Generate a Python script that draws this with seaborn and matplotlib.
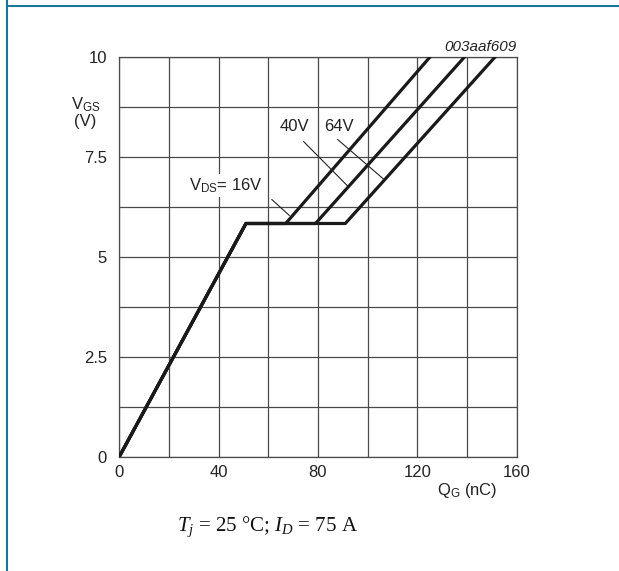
"""Gate charge chart: V_GS vs Q_G for three drain-source voltages."""
import matplotlib

matplotlib.use("Agg")
import matplotlib.pyplot as plt
import numpy as np
import pandas as pd
import seaborn as sns
from matplotlib.lines import Line2D

# gate charge (nC) and gate-source voltage (V) breakpoints
q_16v = [0, 51, 67, 125.2]
v_16v = [0, 5.83, 5.83, 10]
q_40v = [0, 51, 79, 139.1]
v_40v = [0, 5.83, 5.83, 10]
q_64v = [0, 51, 91, 151.4]
v_64v = [0, 5.83, 5.83, 10]
vds_names = ["16V", "40V", "64V"]

x_ticks = [0, 40, 80, 120, 160]
y_ticks = [0, 2.5, 5, 7.5, 10]
y_tick_labels = ["0", "2.5", "5", "7.5", "10"]

sns.set_theme(style="white")
plt.rcParams["font.family"] = ["Liberation Sans", "DejaVu Sans"]
plt.rcParams["mathtext.fontset"] = "custom"
plt.rcParams["mathtext.rm"] = "Liberation Sans"
plt.rcParams["mathtext.it"] = "Liberation Serif:italic"

df = pd.concat(
    [
        pd.DataFrame({"Q": q, "V": v, "vds": name})
        for q, v, name in zip([q_16v, q_40v, q_64v], [v_16v, v_40v, v_64v], vds_names)
    ],
    ignore_index=True,
)

fig = plt.figure(figsize=(6.19, 5.71), dpi=100)
ax = fig.add_axes([0.1927, 0.2002, 0.642, 0.7005])

sns.lineplot(
    data=df, x="Q", y="V", hue="vds", palette=["#1a1a1a"] * 3,
    sort=False, estimator=None, legend=False, lw=2.3, ax=ax, zorder=3,
)

ax.set_xlim(0, 160)
ax.set_ylim(0, 10)
ax.set_xticks(x_ticks)
ax.set_xticks(np.arange(0, 161, 20), minor=True)
ax.set_yticks(y_ticks)
ax.set_yticklabels(y_tick_labels)
ax.set_yticks(np.arange(0, 10.01, 1.25), minor=True)
ax.grid(True, which="both", color="#4a4a4a", lw=0.9)
ax.tick_params(which="both", length=0, labelsize=12, colors="#222222")
ax.tick_params(axis="y", pad=9)
ax.tick_params(axis="x", pad=6)
for s in ax.spines.values():
    s.set_color("#4a4a4a")
    s.set_linewidth(0.9)
ax.set_xlabel("")
ax.set_ylabel("")

# axis labels placed like the datasheet
ax.text(-0.085, 0.86, "V$_{\\mathrm{GS}}$\n(V)", transform=ax.transAxes,
        ha="center", va="center", fontsize=12, color="#222222", linespacing=1.0)
ax.text(0.875, -0.085, "Q$_{\\mathrm{G}}$ (nC)", transform=ax.transAxes,
        ha="center", va="center", fontsize=12, color="#222222")
ax.text(1.0, 1.006, "003aaf609", transform=ax.transAxes, ha="right", va="bottom",
        fontsize=11, style="italic", color="#222222")

# curve labels and leader lines
label_box = dict(facecolor="white", edgecolor="none", pad=1.5)
ax.text(43, 6.78, "V$_{\\mathrm{DS}}$= 16V", ha="center", va="center",
        fontsize=12, color="#222222", bbox=label_box, zorder=4)
ax.text(70.5, 8.25, "40V", ha="center", va="center",
        fontsize=12, color="#222222", bbox=label_box, zorder=4)
ax.text(88.5, 8.25, "64V", ha="center", va="center",
        fontsize=12, color="#222222", bbox=label_box, zorder=4)
leaders = [((61.4, 6.43), (68.5, 6.03)),
           ((74.2, 7.88), (91.9, 6.77)),
           ((87.9, 7.93), (106.6, 6.93))]
for start, end in leaders:
    ax.annotate("", xy=end, xytext=start,
                arrowprops=dict(arrowstyle="-", lw=0.8, color="#222222",
                                shrinkA=0, shrinkB=0), zorder=4)

# caption below the chart
fig.text(0.432, 0.077, "$T_j$ = 25 °C; $I_D$ = 75 A", ha="center", va="center",
         fontsize=15, family="Liberation Serif", color="#111111")

# page frame lines
frame_color = "#1c7594"
fig.add_artist(Line2D([7.3 / 619, 1], [1 - 6.3 / 571] * 2, color=frame_color, lw=1.5))
fig.add_artist(Line2D([7.3 / 619] * 2, [0, 1], color=frame_color, lw=1.5))

fig.savefig("out.png", dpi=100)
